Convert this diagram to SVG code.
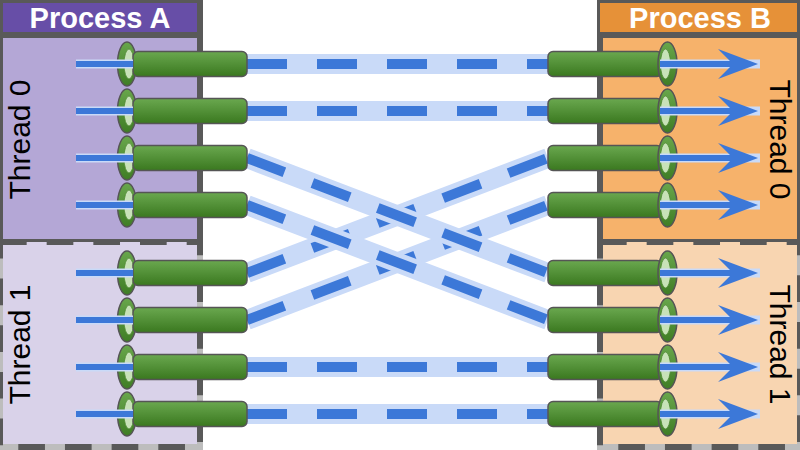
<svg xmlns="http://www.w3.org/2000/svg" xmlns:xlink="http://www.w3.org/1999/xlink" width="800" height="450" viewBox="0 0 800 450">
<style>
.frame{fill:#595959}
.title{font-family:"Liberation Sans",Arial,sans-serif;font-weight:bold;font-size:29px;fill:#ffffff;text-anchor:middle}
.thread{font-family:"Liberation Sans",Arial,sans-serif;font-size:30px;fill:#000000;text-anchor:middle}
.t0{stroke:#595959;stroke-width:6}
.t1under{fill:none;stroke:#bdbdbd;stroke-width:6}
.t1dash{fill:none;stroke:#595959;stroke-width:6;stroke-dasharray:26.67 20}
.band{stroke:#c9daf8;stroke-width:20;fill:none}
.dash{stroke:#3c78d8;stroke-width:10;stroke-dasharray:40 30;fill:none}
.alight{stroke:#c9daf8;stroke-width:9}
.ablue{stroke:#3c78d8;stroke-width:6}
.head{fill:#3c78d8}
.pipe{fill:url(#pipeGrad);stroke:#555555;stroke-width:1.5}
.ring{fill:url(#ringGrad);stroke:#555555;stroke-width:1.5}
.hole{fill:#c8e2b8;stroke:#4f8a33;stroke-width:0.8}
</style>
<defs>
<linearGradient id="pipeGrad" x1="0" y1="0" x2="0" y2="1">
<stop offset="0" stop-color="#6aa84f"/>
<stop offset="1" stop-color="#3a781f"/>
</linearGradient>
<linearGradient id="ringGrad" x1="0" y1="0" x2="0" y2="1">
<stop offset="0" stop-color="#68a64b"/>
<stop offset="1" stop-color="#3f7d25"/>
</linearGradient>
<g id="portL">
<ellipse class="ring" cx="127" cy="0" rx="9.5" ry="22"/>
<ellipse class="hole" cx="129" cy="0" rx="5" ry="15"/>
<rect class="pipe" x="133" y="-12.5" width="114" height="25" rx="5"/>
<line class="alight" x1="76" y1="0" x2="133" y2="0"/>
<line class="ablue" x1="76" y1="0" x2="133" y2="0"/>
</g>
<g id="portR">
<rect class="pipe" x="548" y="-12.5" width="114" height="25" rx="5"/>
<ellipse class="ring" cx="667.5" cy="0" rx="9.5" ry="22"/>
<ellipse class="hole" cx="665.5" cy="0" rx="5" ry="15"/>
<line class="alight" x1="660" y1="0" x2="760" y2="0"/>
<line class="ablue" x1="660" y1="0" x2="736" y2="0"/>
<polygon class="head" points="758,0 718,-15 733,0 718,15"/>
</g>
</defs>

<g id="process-a">
<rect class="frame" x="0" y="0" width="203" height="37"/>
<rect x="3" y="3" width="194" height="29" fill="#674ea7"/>
<text class="title" x="100" y="28">Process A</text>
</g>
<g id="process-b">
<rect class="frame" x="597" y="0" width="203" height="37"/>
<rect x="600" y="3" width="197" height="29" fill="#e69138"/>
<text class="title" x="700" y="28">Process B</text>
</g>

<g id="a-thread0">
<rect class="t0" x="0" y="35" width="200" height="207" fill="#b4a7d6"/>
<text class="thread" transform="translate(30,139.5) rotate(-90)">Thread 0</text>
</g>
<g id="a-thread1">
<rect x="0" y="242" width="200" height="205" fill="#d9d2e9"/>
<path class="t1under" d="M0,245 V447 H200 V245"/>
<rect class="t1dash" x="0" y="242" width="200" height="205"/>
<text class="thread" transform="translate(30,344.5) rotate(-90)">Thread 1</text>
</g>
<g id="b-thread0">
<rect class="t0" x="600" y="35" width="200" height="207" fill="#f6b26b"/>
<text class="thread" transform="translate(770,139.5) rotate(90)">Thread 0</text>
</g>
<g id="b-thread1">
<rect x="600" y="242" width="200" height="205" fill="#f8d5b1"/>
<path class="t1under" d="M600,245 V447 H800 V245"/>
<rect class="t1dash" x="600" y="242" width="200" height="205"/>
<text class="thread" transform="translate(770,344.5) rotate(90)">Thread 1</text>
</g>

<g id="connectors">
<line class="band" x1="247" y1="64" x2="548" y2="64"/><line class="dash" x1="247" y1="64" x2="548" y2="64"/>
<line class="band" x1="247" y1="111" x2="548" y2="111"/><line class="dash" x1="247" y1="111" x2="548" y2="111"/>
<line class="band" x1="247" y1="273" x2="548" y2="158"/><line class="dash" x1="247" y1="273" x2="548" y2="158"/>
<line class="band" x1="247" y1="320" x2="548" y2="205"/><line class="dash" x1="247" y1="320" x2="548" y2="205"/>
<line class="band" x1="247" y1="158" x2="548" y2="273"/><line class="dash" x1="247" y1="158" x2="548" y2="273"/>
<line class="band" x1="247" y1="205" x2="548" y2="320"/><line class="dash" x1="247" y1="205" x2="548" y2="320"/>
<line class="band" x1="247" y1="367" x2="548" y2="367"/><line class="dash" x1="247" y1="367" x2="548" y2="367"/>
<line class="band" x1="247" y1="414" x2="548" y2="414"/><line class="dash" x1="247" y1="414" x2="548" y2="414"/>
</g>

<g id="a-port-0"><use xlink:href="#portL" href="#portL" y="64"/></g>
<g id="a-port-1"><use xlink:href="#portL" href="#portL" y="111"/></g>
<g id="a-port-2"><use xlink:href="#portL" href="#portL" y="158"/></g>
<g id="a-port-3"><use xlink:href="#portL" href="#portL" y="205"/></g>
<g id="a-port-4"><use xlink:href="#portL" href="#portL" y="273"/></g>
<g id="a-port-5"><use xlink:href="#portL" href="#portL" y="320"/></g>
<g id="a-port-6"><use xlink:href="#portL" href="#portL" y="367"/></g>
<g id="a-port-7"><use xlink:href="#portL" href="#portL" y="414"/></g>

<g id="b-port-0"><use xlink:href="#portR" href="#portR" y="64"/></g>
<g id="b-port-1"><use xlink:href="#portR" href="#portR" y="111"/></g>
<g id="b-port-2"><use xlink:href="#portR" href="#portR" y="158"/></g>
<g id="b-port-3"><use xlink:href="#portR" href="#portR" y="205"/></g>
<g id="b-port-4"><use xlink:href="#portR" href="#portR" y="273"/></g>
<g id="b-port-5"><use xlink:href="#portR" href="#portR" y="320"/></g>
<g id="b-port-6"><use xlink:href="#portR" href="#portR" y="367"/></g>
<g id="b-port-7"><use xlink:href="#portR" href="#portR" y="414"/></g>
</svg>
